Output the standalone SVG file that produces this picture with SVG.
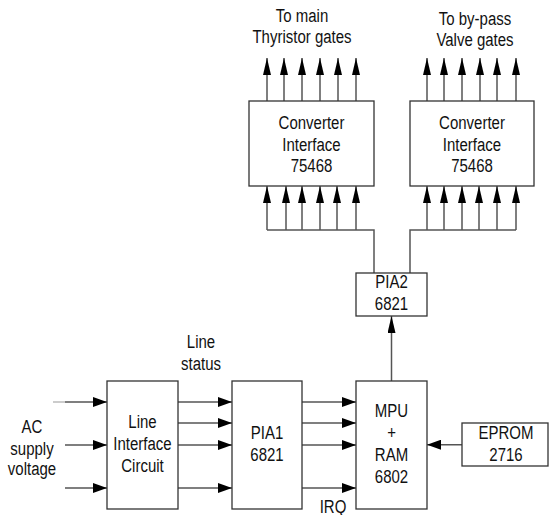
<svg xmlns="http://www.w3.org/2000/svg" width="549" height="515" viewBox="0 0 549 515">
<style>
.box{fill:#fff;stroke:#333;stroke-width:1.3}
.ln{fill:none;stroke:#555;stroke-width:1.5}
.t{font-family:"Liberation Sans",Arial,sans-serif;font-size:15px;fill:#111;text-anchor:middle}
</style>
<defs>
<marker id="ah" viewBox="0 0 14 10" refX="14" refY="5" markerWidth="14" markerHeight="10" markerUnits="userSpaceOnUse" orient="auto"><path d="M0,0 L14,5 L0,10 Z" fill="#000"/></marker>
<marker id="av" viewBox="0 0 17 8" refX="17" refY="4" markerWidth="17" markerHeight="8" markerUnits="userSpaceOnUse" orient="auto"><path d="M0,0 L17,4 L0,8 Z" fill="#000"/></marker>
</defs>
<rect width="549" height="515" fill="#fff"/>
<g id="connectors">
<g marker-end="url(#av)" class="ln">
<path d="M267,101V58"/><path d="M284,101V58"/><path d="M302,101V58"/><path d="M320,101V58"/><path d="M338,101V58"/><path d="M356,101V58"/>
<path d="M427,101V58"/><path d="M444,101V58"/><path d="M462,101V58"/><path d="M480,101V58"/><path d="M497,101V58"/><path d="M516,101V58"/>
<path d="M267,230V186"/><path d="M286,230V186"/><path d="M302,230V186"/><path d="M320,230V186"/><path d="M337,230V186"/><path d="M356,230V186"/>
<path d="M427,230V186"/><path d="M444,230V186"/><path d="M462,230V186"/><path d="M479,230V186"/><path d="M497,230V186"/><path d="M516,230V186"/>
<path d="M391.5,381V316"/>
</g>
<path class="ln" d="M267,230H374V273"/>
<path class="ln" d="M516,230H410V273"/>
<g marker-end="url(#ah)" class="ln">
<path d="M65,402H107"/><path d="M65,445H107"/><path d="M65,488H107"/>
<path d="M178,402H232"/><path d="M178,423H232"/><path d="M178,445H232"/><path d="M178,488H232"/>
<path d="M302,402H356"/><path d="M302,423H356"/><path d="M302,445H356"/><path d="M302,488H356"/>
<path d="M462,444.7H427"/>
</g>
<path d="M53,402H65" stroke="#bbb" stroke-width="1.5"/>
</g>
<g id="conv1"><rect class="box" x="249" y="101" width="125" height="85"/>
<text class="t" transform="translate(311.5,129.3) scale(1,1.24)">Converter</text>
<text class="t" transform="translate(311.5,150.7) scale(1,1.24)">Interface</text>
<text class="t" transform="translate(311.5,171.7) scale(1,1.24)">75468</text></g>
<g id="conv2"><rect class="box" x="410" y="101" width="124" height="85"/>
<text class="t" transform="translate(472,129.3) scale(1,1.24)">Converter</text>
<text class="t" transform="translate(472,150.7) scale(1,1.24)">Interface</text>
<text class="t" transform="translate(472,171.7) scale(1,1.24)">75468</text></g>
<g id="pia2"><rect class="box" x="356" y="273" width="71" height="43"/>
<text class="t" transform="translate(391.5,288.3) scale(1,1.24)">PIA2</text>
<text class="t" transform="translate(391.5,310) scale(1,1.24)">6821</text></g>
<g id="lic"><rect class="box" x="107" y="381" width="71" height="128"/>
<text class="t" transform="translate(142.5,428.3) scale(1,1.24)">Line</text>
<text class="t" transform="translate(142.5,450) scale(1,1.24)">Interface</text>
<text class="t" transform="translate(142.5,471.7) scale(1,1.24)">Circuit</text></g>
<g id="pia1"><rect class="box" x="232" y="381" width="70" height="128"/>
<text class="t" transform="translate(267,439.3) scale(1,1.24)">PIA1</text>
<text class="t" transform="translate(267,460.7) scale(1,1.24)">6821</text></g>
<g id="mpu"><rect class="box" x="356" y="381" width="71" height="128"/>
<text class="t" transform="translate(391.5,417.3) scale(1,1.24)">MPU</text>
<text class="t" transform="translate(391.5,439) scale(1,1.24)">+</text>
<text class="t" transform="translate(391.5,461) scale(1,1.24)">RAM</text>
<text class="t" transform="translate(391.5,482.7) scale(1,1.24)">6802</text></g>
<g id="eprom"><rect class="box" x="462" y="423" width="86" height="43"/>
<text class="t" transform="translate(506,439.3) scale(1,1.24)">EPROM</text>
<text class="t" transform="translate(506,460.7) scale(1,1.24)">2716</text></g>
<g id="labels">
<text class="t" transform="translate(302,21.7) scale(1,1.24)">To main</text>
<text class="t" transform="translate(302,42.7) scale(1,1.24)">Thyristor gates</text>
<text class="t" transform="translate(475,25) scale(1,1.24)">To by-pass</text>
<text class="t" transform="translate(475,46) scale(1,1.24)">Valve gates</text>
<text class="t" transform="translate(201,348.3) scale(1,1.24)">Line</text>
<text class="t" transform="translate(201,370) scale(1,1.24)">status</text>
<text class="t" transform="translate(32,433.3) scale(1,1.24)">AC</text>
<text class="t" transform="translate(32,455) scale(1,1.24)">supply</text>
<text class="t" transform="translate(32,474.5) scale(1,1.24)">voltage</text>
<text class="t" transform="translate(333,513) scale(1,1.24)">IRQ</text>
</g>
</svg>
